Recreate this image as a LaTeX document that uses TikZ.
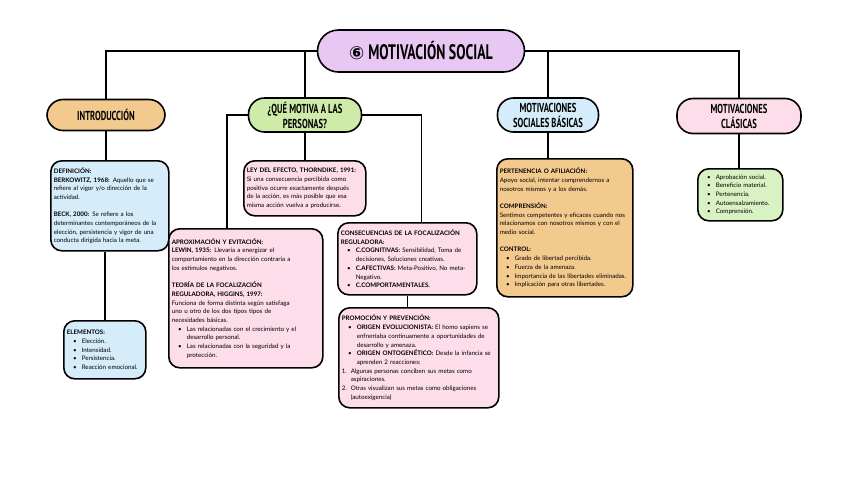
\documentclass[tikz,border=0pt]{standalone}
\usepackage{fontspec}
\setmainfont{Lato}
\newfontfamily\tituloletra[FakeStretch=0.66]{PT Sans}
\newfontfamily\simbolo{DejaVu Sans}
\usepackage{tikz}
\usetikzlibrary{positioning}

\definecolor{lavanda}{HTML}{E8C8F2}
\definecolor{naranja}{HTML}{F3CA8E}
\definecolor{verde}{HTML}{CFEBAA}
\definecolor{verdeclaro}{HTML}{D9F2C4}
\definecolor{celeste}{HTML}{D5ECFA}
\definecolor{rosa}{HTML}{FCDDE9}

% bullets and numbers inside the boxes
\newcommand{\punto}{\makebox[15pt][r]{\textbullet\hspace{5pt}}}
\newcommand{\sigue}{\hspace*{15pt}}
\newcommand{\numero}[1]{\makebox[9pt][l]{#1}}
\newcommand{\numsigue}{\hspace*{9pt}}

\begin{document}
\begin{tikzpicture}[x=1pt, y=-1pt,
    pill/.style={draw, line width=1.6pt, rounded corners=16pt, align=center,
        inner sep=2pt, font=\tituloletra\bfseries\fontsize{13}{15}\selectfont},
    caja/.style={draw, line width=1.6pt, rounded corners=11pt, anchor=north west,
        align=left, inner sep=3pt, font=\fontsize{6.2}{8.7}\selectfont},
    linea/.style={line width=1.4pt}]
    \fill[white] (0,0) rectangle (848,477);
    \useasboundingbox (0,0) rectangle (848,477);

    % Main title
    \node[pill, fill=lavanda, minimum width=207pt, minimum height=42pt, rounded corners=21pt,
        font=\tituloletra\bfseries\fontsize{21}{23}\selectfont] (titulo) at (421,51)
        {{\simbolo\fontsize{18}{19}\selectfont ⑥}\hspace{4pt}MOTIVACIÓN SOCIAL};

    % Second level
    \node[pill, fill=naranja, minimum width=118pt, minimum height=31pt] (intro) at (106,115) {INTRODUCCIÓN};
    \node[pill, fill=verde, minimum width=113pt, minimum height=34pt] (pregunta) at (305,115) {¿QUÉ MOTIVA A LAS\\PERSONAS?};
    \node[pill, fill=celeste, minimum width=101pt, minimum height=34pt] (basicas) at (548,115) {MOTIVACIONES\\SOCIALES BÁSICAS};
    \node[pill, fill=rosa, minimum width=124pt, minimum height=35pt] (clasicas) at (739,116) {MOTIVACIONES\\CLÁSICAS};

    % Introduction
    \node[caja, fill=celeste, text width=112pt, minimum height=90pt] (definicion) at (50,160)
        {\textbf{DEFINICIÓN:}\\
        \textbf{BERKOWITZ, 1968:} Aquello que se\\
        refiere al vigor y/o dirección de la\\
        actividad.\\[8.7pt]
        \textbf{BECK, 2000:} Se refiere a los\\
        determinantes contemporáneos de la\\
        elección, persistencia y vigor de una\\
        conducta dirigida hacia la meta.};
    \node[caja, fill=celeste, text width=76pt, minimum height=58pt] (elementos) at (63,320)
        {\textbf{ELEMENTOS:}\\
        \punto Elección.\\
        \punto Intensidad.\\
        \punto Persistencia.\\
        \punto Reacción emocional.};

    % What motivates people
    \node[caja, fill=rosa, text width=116pt, minimum height=55pt] (ley) at (243,160)
        {\textbf{LEY DEL EFECTO, THORNDIKE, 1991:}\\
        Si una consecuencia percibida como\\
        positiva ocurre exactamente después\\
        de la acción, es más posible que esa\\
        misma acción vuelva a producirse.};
    \node[caja, fill=rosa, text width=148pt, minimum height=139pt] (aproximacion) at (168,228)
        {\textbf{APROXIMACIÓN Y EVITACIÓN:}\\
        \textbf{LEWIN, 1935:} Llevaría a energizar el\\
        comportamiento en la dirección contraria a\\
        los estímulos negativos.\\[8.7pt]
        \textbf{TEORÍA DE LA FOCALIZACIÓN}\\
        \textbf{REGULADORA, HIGGINS, 1997:}\\
        Funciona de forma distinta según satisfaga\\
        uno u otro de los dos tipos tipos de\\
        necesidades básicas.\\
        \punto Las relacionadas con el crecimiento y el\\
        \sigue desarrollo personal.\\
        \punto Las relacionadas con la seguridad y la\\
        \sigue protección.};
    \node[caja, fill=rosa, text width=133pt, minimum height=72pt] (consecuencias) at (337,222)
        {\textbf{CONSECUENCIAS DE LA FOCALIZACIÓN}\\
        \textbf{REGULADORA:}\\
        \punto\textbf{C.COGNITIVAS:} Sensibilidad, Toma de\\
        \sigue decisiones, Soluciones creativas.\\
        \punto\textbf{C.AFECTIVAS:} Meta-Positivo, No meta-\\
        \sigue Negativo.\\
        \punto\textbf{C.COMPORTAMENTALES.}};
    \node[caja, fill=rosa, text width=154pt, minimum height=100pt] (promocion) at (338,307)
        {\textbf{PROMOCIÓN Y PREVENCIÓN:}\\
        \punto\textbf{ORIGEN EVOLUCIONISTA:} El homo sapiens se\\
        \sigue enfrentaba continuamente a oportunidades de\\
        \sigue desarrollo y amenaza.\\
        \punto\textbf{ORIGEN ONTOGENÉTICO:} Desde la infancia se\\
        \sigue aprenden 2 reacciones:\\
        \numero{1.}Algunas personas conciben sus metas como\\
        \numsigue aspiraciones.\\
        \numero{2.}Otras visualizan sus metas como obligaciones\\
        \numsigue (autoexigencia)};

    % Basic social motivations
    \node[caja, fill=naranja, text width=130pt, minimum height=138pt] (pertenencia) at (496,158)
        {\textbf{PERTENENCIA O AFILIACIÓN:}\\
        Apoyo social, intentar comprendernos a\\
        nosotros mismos y a los demás.\\[8.7pt]
        \textbf{COMPRENSIÓN:}\\
        Sentimos competentes y eficaces cuando nos\\
        relacionamos con nosotros mismos y con el\\
        medio social.\\[8.7pt]
        \textbf{CONTROL:}\\
        \punto Grado de libertad percibida.\\
        \punto Fuerza de la amenaza.\\
        \punto Importancia de las libertades eliminadas.\\
        \punto Implicación para otras libertades.};

    % Classic motivations
    \node[caja, fill=verdeclaro, text width=79pt, minimum height=52pt] (lista) at (697,168)
        {\punto Aprobación social.\\
        \punto Beneficio material.\\
        \punto Pertenencia.\\
        \punto Autoensalzamiento.\\
        \punto Comprensión.};

    % Connectors
    \draw[linea] (titulo.west) -| (intro.north);
    \draw[linea] (titulo.west) -| (pregunta.north);
    \draw[linea] (titulo.east) -| (basicas.north);
    \draw[linea] (titulo.east) -| (clasicas.north);
    \draw[linea] (intro.south) -- (intro.south |- definicion.north);
    \draw[linea] (elementos.north |- definicion.south) -- (elementos.north);
    \draw[linea] (pregunta.south) -- (pregunta.south |- ley.north);
    \draw[linea] (pregunta.west) -| ([xshift=-19pt]aproximacion.north);
    \draw[linea] (pregunta.east) -| ([xshift=14pt]consecuencias.north);
    \draw[linea] (consecuencias.south) -- (consecuencias.south |- promocion.north);
    \draw[linea] (basicas.south) -- (basicas.south |- pertenencia.north);
    \draw[linea] (clasicas.south) -- (clasicas.south |- lista.north);
\end{tikzpicture}
\end{document}
